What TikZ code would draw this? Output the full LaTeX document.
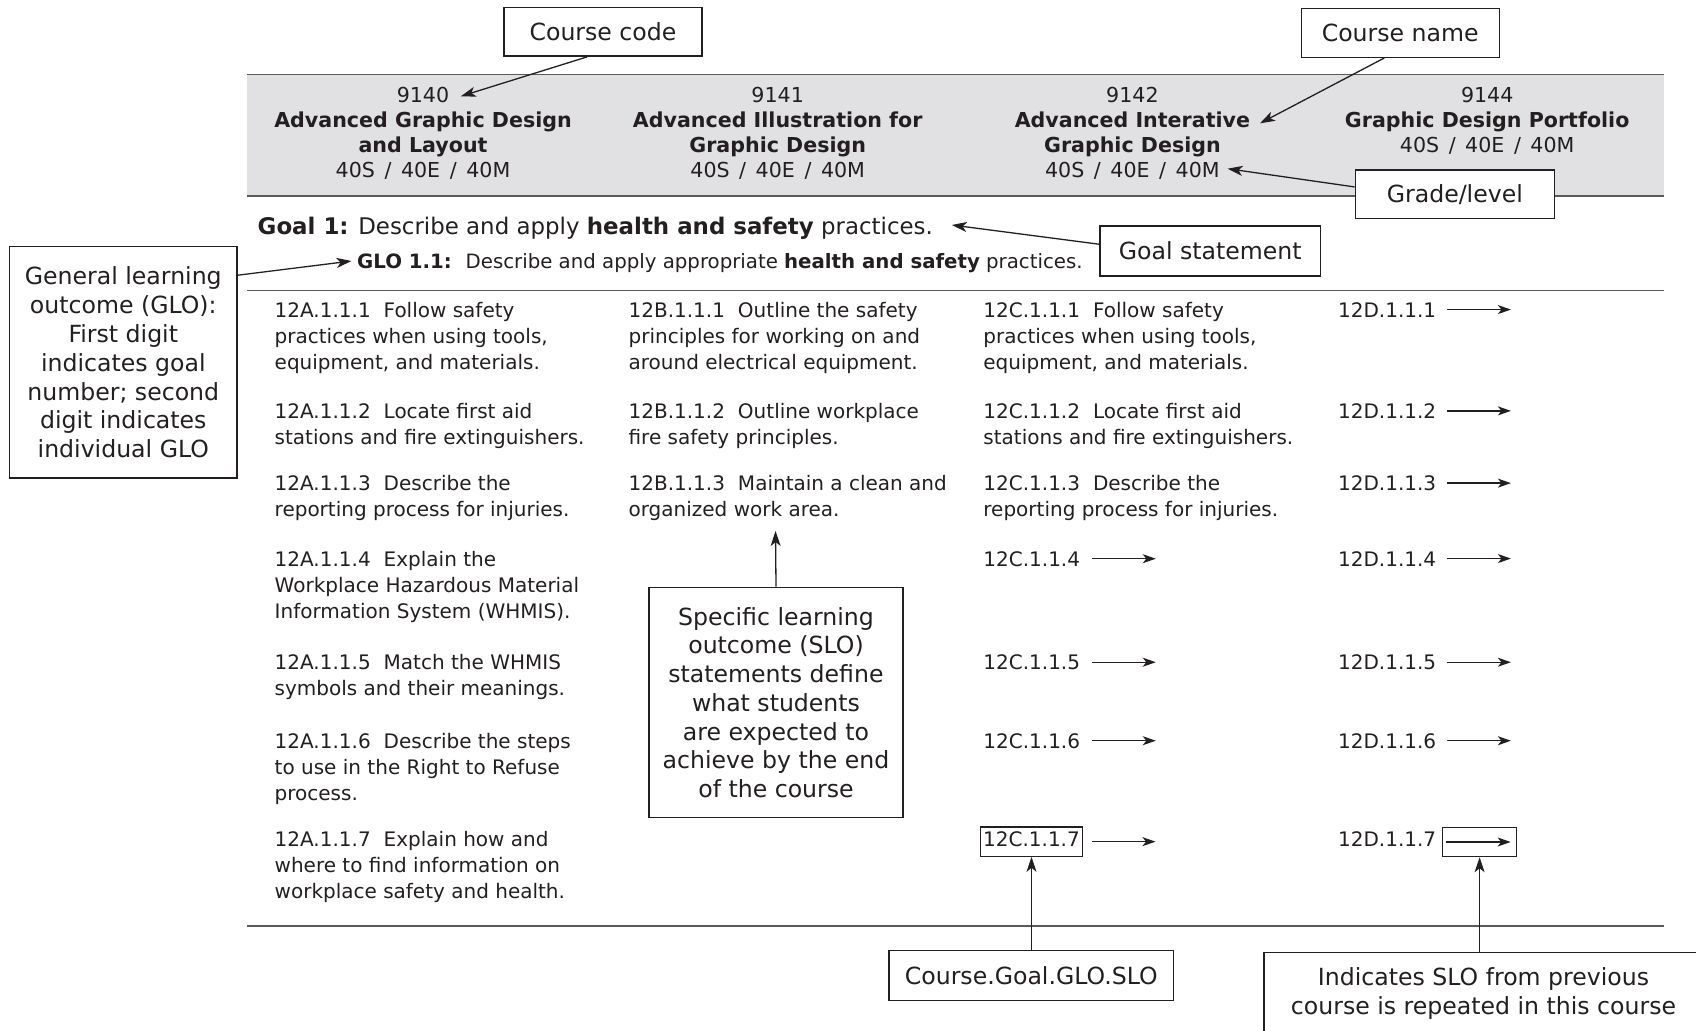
\documentclass[tikz,border=0pt]{standalone}
\usepackage{fontspec}
\setmainfont{DejaVu Sans}
\usetikzlibrary{arrows.meta,calc}
\definecolor{ink}{HTML}{231F20}
\definecolor{band}{HTML}{E1E1E3}
\definecolor{rulec}{HTML}{5A5A5A}
\newcommand\grlev{40S\hspace{3pt} /\hspace{3pt} 40E\hspace{3pt} /\hspace{3pt} 40M}
\begin{document}
\begin{tikzpicture}[x=1pt,y=-1pt,
  every node/.style={inner sep=0pt, text=ink},
  body/.style={font=\fontsize{20}{25.9}\selectfont, align=left, anchor=north west},
  lab/.style={font=\fontsize{20}{25.9}\selectfont, anchor=base west},
  head/.style={font=\fontsize{20.6}{24.8}\selectfont, align=center, anchor=north},
  call/.style={draw=ink, fill=white, line width=1.4pt, font=\fontsize{23.6}{28.9}\selectfont, align=center},
  carr/.style={draw=ink, line width=1.3pt, -{Stealth[length=15pt,width=10pt,inset=4pt]}},
  rarr/.style={draw=ink, line width=1.3pt, -{Stealth[length=13pt,width=9pt,inset=3.5pt]}},
  hrule/.style={draw=rulec, line width=1.7pt}
]
\useasboundingbox (0,0) rectangle (1696,1030);
\clip (0,0) rectangle (1696,1030);

% header band
\fill[band] (246.6,74.6) rectangle (1663.5,195.8);
\draw[hrule] (246.6,74.6) -- (1663.5,74.6);
\draw[hrule] (246.6,195.8) -- (1663.5,195.8);

\node[head] (h1) at (423,87.3) {9140\\\textbf{Advanced Graphic Design}\\\textbf{and Layout}\\\grlev};
\node[head] (h2) at (777.7,87.3) {9141\\\textbf{Advanced Illustration for}\\\textbf{Graphic Design}\\\grlev};
\node[head] (h3) at (1132.4,87.3) {9142\\\textbf{Advanced Interative}\\\textbf{Graphic Design}\\\grlev};
\node[head] (h4) at (1487.2,87.3) {9144\\\textbf{Graphic Design Portfolio}\\\grlev};

% goal and GLO
\node[anchor=base west, font=\fontsize{22.9}{28}\selectfont] (goal) at (257.5,234.3) {\textbf{Goal 1:} Describe and apply \textbf{health and safety} practices.};
\node[anchor=base west, font=\fontsize{19.75}{24}\selectfont] (glo) at (357,268.3) {\textbf{GLO 1.1:}\hspace{0.7em}Describe and apply appropriate \textbf{health and safety} practices.};

\draw[hrule] (246.6,290.5) -- (1663.5,290.5);
\draw[hrule] (246.6,925.9) -- (1663.5,925.9);

% column A
\node[body] (a1) at (274.5,302) {12A.1.1.1\hspace{0.65em}Follow safety\\practices when using tools,\\equipment, and materials.};
\node[body] (a2) at (274.5,403.3) {12A.1.1.2\hspace{0.65em}Locate first aid\\stations and fire extinguishers.};
\node[body] (a3) at (274.5,475.4) {12A.1.1.3\hspace{0.65em}Describe the\\reporting process for injuries.};
\node[body] (a4) at (274.5,551) {12A.1.1.4\hspace{0.65em}Explain the\\Workplace Hazardous Material\\Information System (WHMIS).};
\node[body] (a5) at (274.5,654.5) {12A.1.1.5\hspace{0.65em}Match the WHMIS\\symbols and their meanings.};
\node[body] (a6) at (274.5,733) {12A.1.1.6\hspace{0.65em}Describe the steps\\to use in the Right to Refuse\\process.};
\node[body] (a7) at (274.5,831) {12A.1.1.7\hspace{0.65em}Explain how and\\where to find information on\\workplace safety and health.};

% column B
\node[body] (b1) at (628.4,302) {12B.1.1.1\hspace{0.65em}Outline the safety\\principles for working on and\\around electrical equipment.};
\node[body] (b2) at (628.4,403.3) {12B.1.1.2\hspace{0.65em}Outline workplace\\fire safety principles.};
\node[body] (b3) at (628.4,475.4) {12B.1.1.3\hspace{0.65em}Maintain a clean and\\organized work area.};

% column C
\node[body] (c1) at (983.2,302) {12C.1.1.1\hspace{0.65em}Follow safety\\practices when using tools,\\equipment, and materials.};
\node[body] (c2) at (983.2,403.3) {12C.1.1.2\hspace{0.65em}Locate first aid\\stations and fire extinguishers.};
\node[body] (c3) at (983.2,475.4) {12C.1.1.3\hspace{0.65em}Describe the\\reporting process for injuries.};
\node[lab] (c4) at (983.2,566) {12C.1.1.4};
\node[lab] (c5) at (983.2,669.5) {12C.1.1.5};
\node[lab] (c6) at (983.2,748) {12C.1.1.6};
\node[lab, draw=ink, line width=1.3pt, inner xsep=2.5pt, inner ysep=4.4pt, text height=14.5pt, text depth=5.8pt] (c7) at (980,846) {12C.1.1.7};
\foreach \n in {c4,c5,c6}{\draw[rarr] ([xshift=12pt]\n.east) -- ++(63.5,0);}
\draw[rarr] ([xshift=9pt]c7.east) -- ++(63.5,0);

% column D
\node[lab] (d1) at (1337.9,317) {12D.1.1.1};
\node[lab] (d2) at (1337.9,418.3) {12D.1.1.2};
\node[lab] (d3) at (1337.9,490.4) {12D.1.1.3};
\node[lab] (d4) at (1337.9,566) {12D.1.1.4};
\node[lab] (d5) at (1337.9,669.5) {12D.1.1.5};
\node[lab] (d6) at (1337.9,748) {12D.1.1.6};
\node[lab] (d7) at (1337.9,846) {12D.1.1.7};
\foreach \n in {d1,d2,d3,d4,d5,d6}{\draw[rarr] ([xshift=10.5pt]\n.east) -- ++(64,0);}
\node[draw=ink, line width=1.3pt, minimum width=74pt, minimum height=29.2pt] (d7b) at (1479.6,842) {};
\draw[rarr] ([xshift=4.4pt]d7b.west) -- ([xshift=-6.6pt]d7b.east);

% callouts
\node[call, minimum width=198pt, minimum height=48.6pt] (cc) at (603,31.9) {Course code};
\node[call, minimum width=198pt, minimum height=48.6pt] (cn) at (1400.2,33) {Course name};
\node[call, minimum width=199pt, minimum height=48.7pt] (gl) at (1454.8,194.2) {Grade/level};
\node[call, minimum width=220.6pt, minimum height=49.8pt] (gs) at (1210.3,250.9) {Goal statement};
\node[call, minimum width=227.2pt, minimum height=231.4pt] (glob) at (123.3,362.3) {General learning\\outcome (GLO):\\First digit\\indicates goal\\number; second\\digit indicates\\individual GLO};
\node[call, minimum width=254pt, minimum height=230.4pt, font=\fontsize{23.6}{28.7}\selectfont] (slo) at (776,702.5) {Specific learning\\outcome (SLO)\\statements define\\what students\\are expected to\\achieve by the end\\of the course};
\node[call, minimum width=284.5pt, minimum height=49.8pt] (cg) at (1031.25,975.6) {Course.Goal.GLO.SLO};
\node[call, anchor=north west, minimum width=439pt, minimum height=82pt, font=\fontsize{23.6}{29.2}\selectfont] (ind) at (1263.3,951.8) {Indicates SLO from previous\\course is repeated in this course};

% callout arrows
\coordinate (t9140) at (460.8,96.3);
\coordinate (tname) at (1260,123.3);
\coordinate (tgrade) at (1227.6,168.7);
\coordinate (tgoal) at (951.8,225);
\coordinate (tglo) at (351.5,261);
\coordinate (tslo) at (775.5,531);
\draw[carr] ($(cc.south west)!0.42!(cc.south east)$) -- (t9140);
\draw[carr] ($(cn.south west)!0.42!(cn.south east)$) -- (tname);
\draw[carr] ($(gl.north west)!0.355!(gl.south west)$) -- (tgrade);
\draw[carr] ($(gs.north west)!0.37!(gs.south west)$) -- (tgoal);
\draw[carr] ($(glob.north east)!0.126!(glob.south east)$) -- (tglo);
\draw[carr] (slo.north) -- (tslo);
\draw[carr] (cg.north -| c7.south) -- (c7.south);
\draw[carr] (ind.north -| d7b.south) -- (d7b.south);
\end{tikzpicture}
\end{document}
